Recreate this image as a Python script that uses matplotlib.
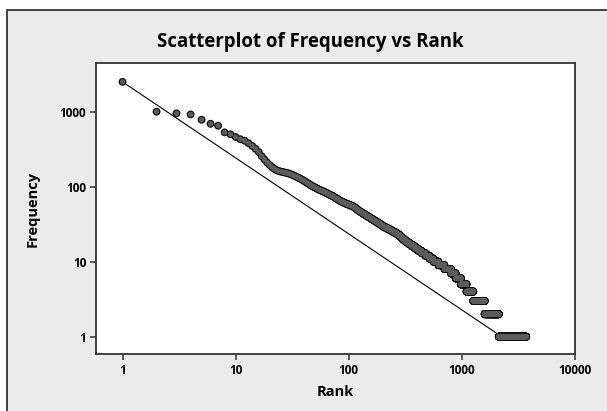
import numpy as np
import matplotlib
matplotlib.use("Agg")
import matplotlib.pyplot as plt
from matplotlib.patches import Rectangle

# ---- data ----
# frequencies of ranks 1..100 (each rank listed)
top_freqs = [2500, 1000, 950, 920, 780, 690, 650, 530, 500, 460,
             430, 410, 380, 350, 320, 290, 255, 230, 210, 195,
             182, 173, 166, 162, 159, 157, 155, 153, 151, 149,
             146, 143, 140, 137, 134, 131, 129, 126, 123, 120,
             118, 115, 112, 110, 108, 105, 103, 101, 100, 98,
             97, 95, 94, 92, 91, 90, 89, 88, 87, 86,
             85, 84, 83, 82, 81, 80, 79, 78, 77, 76,
             76, 75, 74, 73, 72, 71, 70, 70, 69, 68,
             67, 66, 66, 65, 64, 64, 63, 63, 62, 62,
             61, 61, 60, 60, 59, 59, 59, 58, 58, 58]
# for lower frequencies: frequency value and the last rank having it
tail_freqs = [57, 56, 55, 54, 53, 52, 51, 50, 49, 48, 47, 46, 45, 44, 43, 42,
              41, 40, 39, 38, 37, 36, 35, 34, 33, 32, 31, 30, 29, 28, 27, 26,
              25, 24, 23, 22, 21, 20, 19, 18, 17, 16, 15, 14, 13, 12, 11, 10,
              9, 8, 7, 6, 5, 4, 3, 2, 1]
tail_last_rank = [103, 106, 109, 111, 113, 115, 117, 119, 121, 123, 126, 129,
                  132, 135, 139, 142, 146, 150, 154, 158, 163, 168, 173, 178,
                  185, 190, 196, 203, 212, 222, 233, 244, 256, 268, 280, 288,
                  297, 310, 325, 342, 362, 385, 410, 440, 475, 515, 560, 620,
                  700, 800, 880, 980, 1099, 1260, 1590, 2120, 3700]
# fitted reference line endpoints
line_rank = [1, 2250]
line_freq = [2500, 1]

x_ticks = [1, 10, 100, 1000, 10000]
x_ticklabels = ["1", "10", "100", "1000", "10000"]
y_ticks = [1, 10, 100, 1000]
y_ticklabels = ["1", "10", "100", "1000"]

# ---- decode run-length table into one frequency per rank ----
counts = np.diff([len(top_freqs)] + tail_last_rank)
freq = np.concatenate([np.array(top_freqs, float),
                       np.repeat(np.array(tail_freqs, float), counts)])
rank = np.arange(1, len(freq) + 1)

W, H = 607, 411
fig = plt.figure(figsize=(W / 100, H / 100), dpi=100)
fig.patch.set_facecolor("white")
bg = fig.add_axes([0, 0, 1, 1], zorder=0)
bg.set_xlim(0, W)
bg.set_ylim(H, 0)
bg.axis("off")
bg.add_patch(Rectangle((7, 10), W + 20, H + 20, facecolor="#ebebeb",
                       edgecolor="#333333", lw=1.3))

ax = fig.add_axes([96 / W, 1 - 354 / H, (575 - 96) / W, (354 - 63) / H],
                  zorder=2)
ax.set_facecolor("white")
ax.set_xscale("log")
ax.set_yscale("log")
ax.set_xlim(0.583, 10000)
ax.set_ylim(0.588, 4460)

ax.plot(line_rank, line_freq, color="black", lw=0.8, zorder=2)
# outline layer then fill layer, so overlapping symbols merge into one band
ax.scatter(rank, freq, s=32, facecolor="#111111", edgecolor="none",
           zorder=3)
ax.scatter(rank, freq, s=15, facecolor="#5c5c5c", edgecolor="none",
           zorder=4)

fam = ["Open Sans", "DejaVu Sans"]
ax.set_xticks(x_ticks)
ax.set_xticklabels(x_ticklabels)
ax.set_yticks(y_ticks)
ax.set_yticklabels(y_ticklabels)
ax.minorticks_off()
ax.tick_params(direction="out", length=4, width=1.1, color="#333333",
               labelsize=8.5, pad=3)
for lab in ax.get_xticklabels() + ax.get_yticklabels():
    lab.set_family(fam)
    lab.set_fontweight("bold")
for sp in ax.spines.values():
    sp.set_color("#333333")
    sp.set_linewidth(1.3)

fig.text(310.5 / W, 1 - 41.7 / H, "Scatterplot of Frequency vs Rank",
         ha="center", va="center", fontsize=13.4, fontweight="bold",
         family=fam, zorder=3)
fig.text(335 / W, 1 - 391.5 / H, "Rank", ha="center", va="center",
         fontsize=10.5, fontweight="bold", family=fam, zorder=3)
fig.text(33 / W, 1 - 209 / H, "Frequency", ha="center", va="center",
         rotation=90, fontsize=10.5, fontweight="bold", family=fam, zorder=3)

fig.savefig("out.png", dpi=100, facecolor=fig.get_facecolor())
